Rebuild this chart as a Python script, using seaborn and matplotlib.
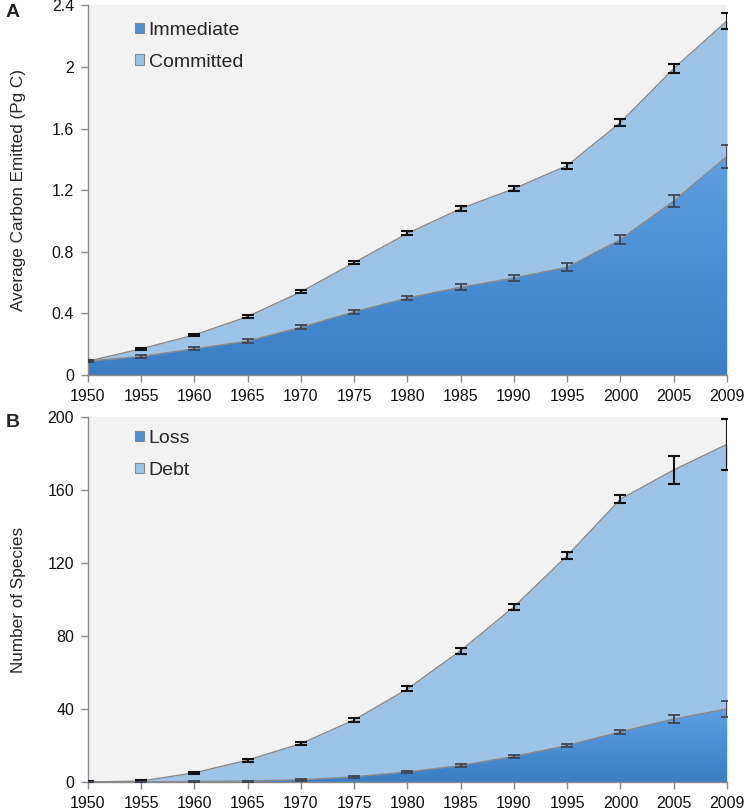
import numpy as np
import pandas as pd
import matplotlib
matplotlib.use("Agg")
import matplotlib.pyplot as plt
import seaborn as sns
from matplotlib.colors import LinearSegmentedColormap

years = ["1950", "1955", "1960", "1965", "1970", "1975", "1980",
         "1985", "1990", "1995", "2000", "2005", "2009"]

immediate = [0.09, 0.12, 0.17, 0.22, 0.31, 0.41, 0.50, 0.57, 0.63, 0.70, 0.88, 1.13, 1.42]
immediate_err = [0.008, 0.008, 0.01, 0.012, 0.012, 0.014, 0.016, 0.02, 0.022, 0.025, 0.028, 0.04, 0.075]
committed = [0.09, 0.17, 0.26, 0.38, 0.54, 0.73, 0.92, 1.08, 1.21, 1.36, 1.64, 1.99, 2.30]
committed_err = [0.006, 0.006, 0.007, 0.008, 0.01, 0.012, 0.014, 0.015, 0.017, 0.02, 0.022, 0.03, 0.05]

loss = [0.0, 0.0, 0.2, 0.5, 1.2, 2.8, 5.5, 9.0, 14.0, 20.0, 27.5, 34.5, 40.0]
loss_err = [0.1, 0.1, 0.2, 0.3, 0.4, 0.5, 0.6, 0.6, 0.7, 0.8, 1.0, 2.4, 4.5]
debt = [0.0, 0.5, 5.0, 12.0, 21.0, 34.0, 51.0, 72.0, 96.0, 124.0, 155.0, 171.0, 185.0]
debt_err = [0.3, 0.4, 0.6, 0.8, 1.0, 1.2, 1.4, 1.6, 1.8, 2.0, 2.0, 7.5, 14.0]

sns.set_style("white")
plt.rcParams['font.family'] = ['Liberation Sans', 'DejaVu Sans']

BG = "#f2f2f2"
LIGHT = "#9dc3e6"
DARK_LEG = "#4a8fd8"
grad = LinearSegmentedColormap.from_list("g", ["#3b7ec4", "#5d9fe0"])

fig = plt.figure(figsize=(7.47, 8.11), dpi=100)
axA = fig.add_axes([0.1178, 0.5376, 0.8554, 0.4557])
axB = fig.add_axes([0.1178, 0.0358, 0.8554, 0.4500])


def panel(ax, low, low_err, high, high_err, ymax, yticks, ytl, labels, leg_y):
    x = np.arange(len(years))
    df = pd.DataFrame({"x": x, "low": low, "high": high})
    ax.set_facecolor(BG)
    ax.fill_between(x, 0, high, color=LIGHT, lw=0, zorder=1)
    poly = ax.fill_between(x, 0, low, color="none", lw=0, zorder=2)
    top = max(low)
    im = ax.imshow(np.linspace(0, 1, 256).reshape(-1, 1), cmap=grad, aspect="auto",
                   extent=[0, len(years) - 1, 0, top], origin="lower", zorder=2)
    im.set_clip_path(poly.get_paths()[0], transform=ax.transData)
    sns.lineplot(data=df, x="x", y="high", ax=ax, color="#8a8a8a", lw=1.0, zorder=3)
    sns.lineplot(data=df, x="x", y="low", ax=ax, color="#8a8a8a", lw=1.0, zorder=3)
    ax.errorbar(x, high, yerr=high_err, fmt="none", ecolor="#111111", elinewidth=1.5,
                capsize=4, capthick=1.5, zorder=4)
    ax.errorbar(x, low, yerr=low_err, fmt="none", ecolor="#3d4655", elinewidth=1.3,
                capsize=4, capthick=1.3, zorder=4)
    ax.set_xlim(0, len(years) - 1)
    ax.set_ylim(0, ymax)
    ax.set_xticks(x)
    ax.set_xticklabels(years, fontsize=11.5)
    ax.set_yticks(yticks)
    ax.set_yticklabels(ytl, fontsize=11.5)
    ax.set_xlabel("")
    for s in ["top", "right"]:
        ax.spines[s].set_visible(False)
    for s in ["left", "bottom"]:
        ax.spines[s].set_color("#8a8a8a")
        ax.spines[s].set_linewidth(1.0)
    ax.tick_params(axis="both", direction="out", length=5, width=1, color="#8a8a8a",
                   labelcolor="#111111", pad=5, left=True, bottom=True)
    h1 = plt.Rectangle((0, 0), 1, 1, fc=DARK_LEG, ec="#888888", lw=0.8)
    h2 = plt.Rectangle((0, 0), 1, 1, fc=LIGHT, ec="#888888", lw=0.8)
    ax.legend([h1, h2], labels, loc="upper left", bbox_to_anchor=(0.0736, leg_y),
              borderpad=0, borderaxespad=0,
              frameon=False, fontsize=14, handlelength=0.45, handleheight=0.45,
              handletextpad=0.25, labelspacing=0.75)
    ax.yaxis.set_label_coords(-0.097, 0.5)


panel(axA, immediate, immediate_err, committed, committed_err, 2.4,
      [0, 0.4, 0.8, 1.2, 1.6, 2.0, 2.4], ["0", "0.4", "0.8", "1.2", "1.6", "2", "2.4"],
      ["Immediate", "Committed"], 0.955)
axA.set_ylabel("Average Carbon Emitted (Pg C)", fontsize=12.3)

panel(axB, loss, loss_err, debt, debt_err, 200,
      [0, 40, 80, 120, 160, 200], ["0", "40", "80", "120", "160", "200"],
      ["Loss", "Debt"], 0.964)
axB.set_ylabel("Number of Species", fontsize=12.3)

fig.text(0.008, 0.984, "A", fontsize=14, fontweight="bold", va="center")
fig.text(0.008, 0.479, "B", fontsize=14, fontweight="bold", va="center")

fig.savefig("out.png", dpi=100)
